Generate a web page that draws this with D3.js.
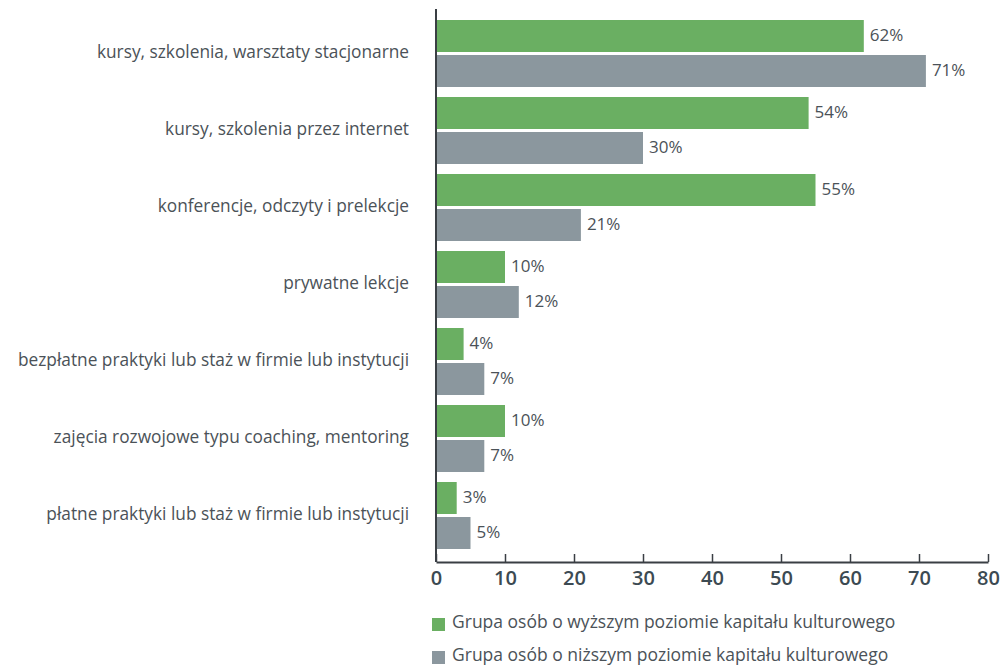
<!DOCTYPE html>
<html>
<head>
<meta charset="utf-8">
<script src="https://cdn.jsdelivr.net/npm/d3@7"></script>
<style>
    body { margin: 0; background: #fff; }
    svg { display: block; }
</style>
</head>
<body>
<div id="bar-chart"></div>
<script>
const categories = [
    "kursy, szkolenia, warsztaty stacjonarne",
    "kursy, szkolenia przez internet",
    "konferencje, odczyty i prelekcje",
    "prywatne lekcje",
    "bezpłatne praktyki lub staż w firmie lub instytucji",
    "zajęcia rozwojowe typu coaching, mentoring",
    "płatne praktyki lub staż w firmie lub instytucji"
];
const seriesNames = [
    "Grupa osób o wyższym poziomie kapitału kulturowego",
    "Grupa osób o niższym poziomie kapitału kulturowego"
];
const higherValues = [62, 54, 55, 10, 4, 10, 3];
const lowerValues  = [71, 30, 21, 12, 7, 7, 5];
const xTicks = [0, 10, 20, 30, 40, 50, 60, 70, 80];

const drawBarChart = () => {

    const width = 1005;
    const height = 666;

    const green = "#6aaf62";
    const grey  = "#8b979e";
    const textColor = "#4b5258";
    const axisColor = "#3a3f44";
    const labelFont = "'Open Sans', sans-serif";

    const svg = d3.select("#bar-chart")
        .append("svg")
        .attr("width", width)
        .attr("height", height);

    const data = categories.map((c, i) => ({
        category: c,
        values: [
            { series: seriesNames[0], value: higherValues[i] },
            { series: seriesNames[1], value: lowerValues[i] }
        ]
    }));

    const xScale = d3.scaleLinear()
        .domain([0, 80])
        .range([436, 988]);

    const yScale = d3.scaleBand()
        .domain(categories)
        .range([15, 554])
        .paddingInner(10 / 77)
        .paddingOuter(5 / 77);

    const ySub = d3.scaleBand()
        .domain(seriesNames)
        .range([0, yScale.bandwidth()])
        .paddingInner(3 / 35);

    const colorScale = d3.scaleOrdinal()
        .domain(seriesNames)
        .range([green, grey]);

    // bars
    const groups = svg.selectAll(".cat")
        .data(data)
        .join("g")
            .attr("class", "cat")
            .attr("transform", d => `translate(0, ${yScale(d.category)})`);

    groups.selectAll("rect")
        .data(d => d.values)
        .join("rect")
            .attr("x", xScale(0))
            .attr("y", d => ySub(d.series))
            .attr("width", d => xScale(d.value) - xScale(0))
            .attr("height", ySub.bandwidth())
            .attr("fill", d => colorScale(d.series));

    groups.selectAll(".value")
        .data(d => d.values)
        .join("text")
            .attr("class", "value")
            .text(d => `${d.value}%`)
            .attr("x", d => xScale(d.value) + 6)
            .attr("y", d => ySub(d.series) + ySub.bandwidth() / 2)
            .attr("dominant-baseline", "middle")
            .attr("fill", textColor)
            .style("font-family", labelFont)
            .style("font-size", "17px");

    // category labels
    svg.selectAll(".cat-label")
        .data(categories)
        .join("text")
            .attr("class", "cat-label")
            .text(d => d)
            .attr("x", 409)
            .attr("y", d => yScale(d) + yScale.bandwidth() / 2)
            .attr("text-anchor", "end")
            .attr("dominant-baseline", "middle")
            .attr("fill", textColor)
            .style("font-family", labelFont)
            .style("font-size", "17.3px");

    // vertical axis line
    svg.append("line")
        .attr("x1", xScale(0))
        .attr("x2", xScale(0))
        .attr("y1", 9)
        .attr("y2", 562)
        .attr("stroke", axisColor)
        .attr("stroke-width", 2);

    // bottom axis
    const bottomAxis = d3.axisBottom(xScale)
        .tickValues(xTicks)
        .tickSizeInner(-8)
        .tickSizeOuter(0)
        .tickPadding(9);

    const axisG = svg.append("g")
        .attr("class", "axis-x")
        .attr("transform", "translate(0, 562)")
        .call(bottomAxis);

    axisG.select(".domain")
        .attr("stroke", axisColor)
        .attr("stroke-width", 2);
    axisG.selectAll(".tick line")
        .attr("stroke", axisColor)
        .attr("stroke-width", 1.5);
    axisG.selectAll(".tick text")
        .attr("fill", "#3c4a52")
        .style("font-family", labelFont)
        .style("font-weight", 600)
        .style("font-size", "20px");

    // legend
    const legend = svg.selectAll(".legend")
        .data(seriesNames)
        .join("g")
            .attr("class", "legend")
            .attr("transform", (d, i) => `translate(432, ${618 + i * 33})`);

    legend.append("rect")
        .attr("width", 13)
        .attr("height", 13)
        .attr("fill", d => colorScale(d));

    legend.append("text")
        .text(d => d)
        .attr("x", 20)
        .attr("y", 5)
        .attr("dominant-baseline", "middle")
        .attr("fill", textColor)
        .style("font-family", labelFont)
        .style("font-size", "17.5px");
};

drawBarChart();
</script>
</body>
</html>
